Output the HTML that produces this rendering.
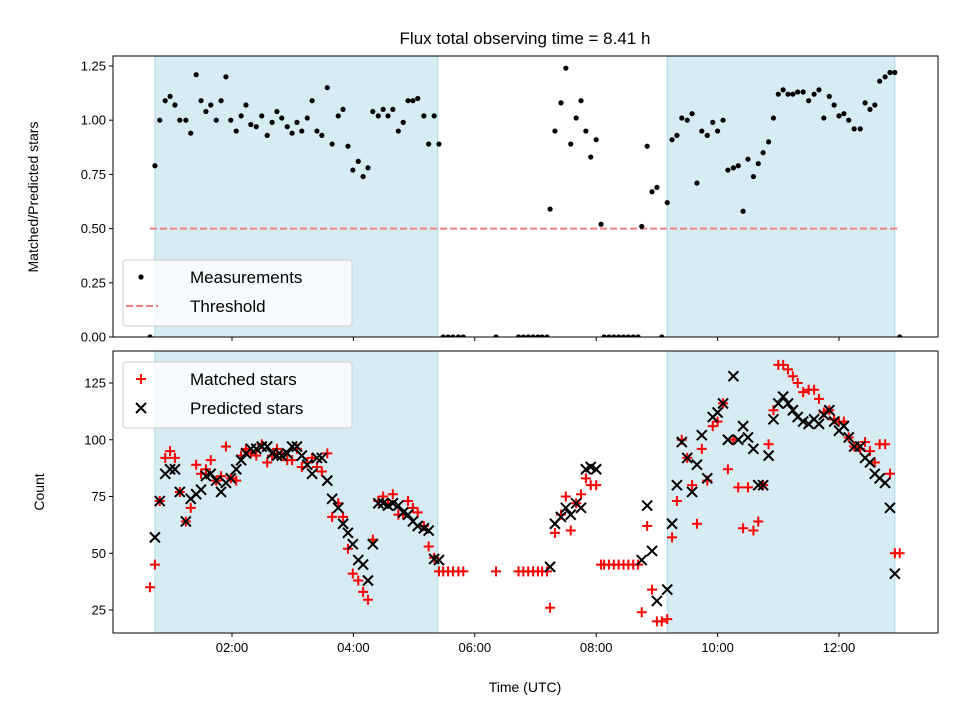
<!DOCTYPE html>
<html><head><meta charset="utf-8"><style>
body{margin:0;background:#fff}
svg text{font-family:"Liberation Sans","DejaVu Sans",sans-serif;fill:#000}
</style></head><body>
<svg id="chart" width="960" height="720" viewBox="0 0 960 720" xmlns="http://www.w3.org/2000/svg">
<rect width="960" height="720" fill="#fff"/>
<g id="top"></g>
<g id="bot"></g>
<text x="525" y="44" font-size="17" text-anchor="middle">Flux total observing time = 8.41 h</text>
<text x="525" y="692" font-size="14" text-anchor="middle">Time (UTC)</text>
<text transform="translate(38,197) rotate(-90)" font-size="14" text-anchor="middle">Matched/Predicted stars</text>
<text transform="translate(44,492) rotate(-90)" font-size="14" text-anchor="middle">Count</text>
</svg>
<script>
const times=[0.65,0.73,0.81,0.90,0.98,1.06,1.14,1.24,1.32,1.41,1.49,1.57,1.65,1.74,1.82,1.90,1.98,2.07,2.15,2.23,2.31,2.40,2.49,2.58,2.66,2.74,2.82,2.91,2.99,3.07,3.15,3.24,3.32,3.40,3.48,3.57,3.65,3.75,3.83,3.91,3.99,4.08,4.16,4.24,4.32,4.41,4.49,4.57,4.65,4.74,4.82,4.90,4.98,5.06,5.16,5.24,5.33,5.41,5.48,5.56,5.64,5.73,5.81,6.35,6.72,6.80,6.88,6.96,7.04,7.11,7.19,7.24,7.32,7.42,7.50,7.58,7.67,7.75,7.83,7.91,8.00,8.08,8.13,8.21,8.29,8.37,8.45,8.53,8.61,8.69,8.75,8.84,8.92,9.00,9.08,9.17,9.25,9.33,9.41,9.50,9.58,9.66,9.74,9.83,9.92,10.00,10.09,10.17,10.26,10.34,10.42,10.50,10.59,10.67,10.75,10.84,10.92,11.00,11.08,11.16,11.24,11.32,11.41,11.50,11.59,11.67,11.75,11.84,11.92,12.00,12.08,12.16,12.25,12.35,12.43,12.51,12.59,12.67,12.76,12.84,12.92,13.00];
const ratio=[0,0.79,1.00,1.09,1.11,1.07,1.00,1.00,0.94,1.21,1.09,1.04,1.07,1.00,1.09,1.20,1.00,0.95,1.02,1.07,0.98,0.97,1.02,0.93,0.99,1.04,1.01,0.97,0.94,0.99,0.95,1.01,1.09,0.95,0.93,1.15,0.89,1.02,1.05,0.88,0.77,0.81,0.74,0.78,1.04,1.02,1.05,1.02,1.05,0.95,0.99,1.09,1.09,1.10,1.02,0.89,1.02,0.89,0,0,0,0,0,0,0,0,0,0,0,0,0,0.59,0.95,1.08,1.24,0.89,1.01,1.09,0.95,0.83,0.91,0.52,0,0,0,0,0,0,0,0,0.51,0.88,0.67,0.69,0,0.62,0.91,0.93,1.01,1.00,1.03,0.71,0.95,0.93,0.99,0.95,1.00,0.77,0.78,0.79,0.58,0.82,0.74,0.80,0.85,0.90,1.01,1.12,1.14,1.12,1.12,1.13,1.13,1.09,1.12,1.14,1.01,1.11,1.07,1.02,1.03,1.00,0.96,0.96,1.08,1.05,1.07,1.18,1.20,1.22,1.22,0];
const matched=[35,45,73,92,95,92,77,64,70,89,85,87,91,82,84,97,83,82,93,96,94,93,98,90,93,96,94,91,91,96,88,90,92,88,86,94,66,72,66,52,41,38,33,29.5,56,73,75,72,76,67,67,73,70,68,62,53,48,42,42,42,42,42,42,42,42,42,42,42,42,42,42,26,59,67,75,60,72,76,83,80,80,45,45,45,45,45,45,45,45,45,24,62,34,20,20,21,57,73,100,92,80,63,96,82,106,108,116,87,100,79,61,79,60,64,80,98,113,133,133,131,128,125,121,122,122,118,112,113,109,108,108,101,97,96,99,95,90,98,98,85,50,50];
const predicted=[null,57,73,85,87,87,77,64,74,76,78,84,85,82,77,81,83,87,91,94,96,96,97,97,94,93,93,94,97,97,93,89,85,92,92,82,74,70,63,59,54,47,45,38,54,72,72,71,72,71,68,67,64,62,61,60,47.5,47,null,null,null,null,null,null,null,null,null,null,null,null,null,44,63,66,70,67,72,70,87,88,87,null,null,null,null,null,null,null,null,null,47,71,51,29,null,34,63,80,99,92,77,89,102,83,110,112,116,100,128,100,106,101,96,80,80,93,109,116,119,116,113,110,108,107,109,107,111,113,108,104,106,101,97,97,92,90,85,83,81,70,41,null];
const xTickHours=[2,4,6,8,10,12];
const xTickLabels=["02:00","04:00","06:00","08:00","10:00","12:00"];
const topTicks=[0,0.25,0.5,0.75,1.0,1.25];
const topTickLabels=["0.00","0.25","0.50","0.75","1.00","1.25"];
const botTicks=[25,50,75,100,125];
const spans=[[0.73,5.39],[9.17,12.92]];
const threshold=0.5, thrRange=[0.65,13.0];

const NS="http://www.w3.org/2000/svg";
const L=113,R=938;
const X=h=>110.6+h*60.7;
const TOP={y0:56,y1:337,fy:v=>337-v*216.8};
const BOT={y0:351,y1:633,fy:v=>610-(v-25)*2.27};
function mk(p,tag,a){const e=document.createElementNS(NS,tag);for(const k in a)e.setAttribute(k,a[k]);p.appendChild(e);return e;}
function panel(g,P,ticks,labels){
  spans.forEach(s=>{const r=mk(g,'rect',{x:X(s[0]),y:P.y0,width:X(s[1])-X(s[0]),height:P.y1-P.y0,fill:'#add8e6','fill-opacity':0.5,stroke:'#add8e6'});
    
    });
  ticks.forEach((t,i)=>{const y=P.fy(t);mk(g,'line',{x1:L-4,x2:L,y1:y,y2:y,stroke:'#000'});
    const tx=mk(g,'text',{x:L-7,y:y+4.5,'font-size':13,'text-anchor':'end'});tx.textContent=labels[i];
    
    });
  xTickHours.forEach((h,i)=>{mk(g,'line',{x1:X(h),x2:X(h),y1:P.y1,y2:P.y1+4,stroke:'#000'});});
}
const gt=document.getElementById('top'),gb=document.getElementById('bot');
panel(gt,TOP,topTicks,topTickLabels);
panel(gb,BOT,botTicks,botTicks.map(String));
xTickHours.forEach((h,i)=>{const t=mk(gb,'text',{x:X(h),y:652,'font-size':13,'text-anchor':'middle'});t.textContent=xTickLabels[i];
  
  });
const thr=mk(gt,'line',{x1:X(thrRange[0]),x2:X(thrRange[1]),y1:TOP.fy(threshold),y2:TOP.fy(threshold),stroke:'#f08080','stroke-width':2,'stroke-dasharray':'7,3'});


// clip
const defs=mk(document.getElementById('chart'),'defs',{});
const c1=mk(defs,'clipPath',{id:'c1'});mk(c1,'rect',{x:L,y:TOP.y0-3,width:R-L,height:TOP.y1-TOP.y0+3});
const c2=mk(defs,'clipPath',{id:'c2'});mk(c2,'rect',{x:L,y:BOT.y0,width:R-L,height:BOT.y1-BOT.y0});
const mt=mk(gt,'g',{'clip-path':'url(#c1)'});
times.forEach((h,i)=>{const d=mk(mt,'circle',{cx:X(h),cy:TOP.fy(ratio[i]),r:2.6,fill:'#000'});
  
  });
const mb=mk(gb,'g',{'clip-path':'url(#c2)'});
times.forEach((h,i)=>{const x=X(h),y=BOT.fy(matched[i]);
  const p=mk(mb,'path',{d:`M${x-5},${y}H${x+5}M${x},${y-5}V${y+5}`,stroke:'#f00','stroke-width':2,fill:'none'});
  
  });
times.forEach((h,i)=>{if(predicted[i]==null)return;const x=X(h),y=BOT.fy(predicted[i]);
  const p=mk(mb,'path',{d:`M${x-5},${y-5}L${x+5},${y+5}M${x-5},${y+5}L${x+5},${y-5}`,stroke:'#000','stroke-width':2,fill:'none'});
  
  });
[TOP,BOT].forEach((P,i)=>{const r=mk(i?gb:gt,'rect',{x:L,y:P.y0,width:R-L,height:P.y1-P.y0,fill:'none',stroke:'#000','stroke-width':1});
  
  });
// legends
function legend(g,y,items){
  const box=mk(g,'rect',{x:123,y:y,width:229,height:66,rx:3,fill:'#fff','fill-opacity':0.8,stroke:'#ccc'});
  
  
  items.forEach((it,i)=>{const cy=y+17+i*29,cx=141;
    if(it.k==='dot')mk(g,'circle',{cx:cx,cy:cy,r:2.6,fill:'#000'});
    if(it.k==='dash')mk(g,'line',{x1:126,x2:158,y1:cy,y2:cy,stroke:'#f08080','stroke-width':2,'stroke-dasharray':'7,3'});
    if(it.k==='plus')mk(g,'path',{d:`M${cx-5},${cy}H${cx+5}M${cx},${cy-5}V${cy+5}`,stroke:'#f00','stroke-width':2});
    if(it.k==='x')mk(g,'path',{d:`M${cx-5},${cy-5}L${cx+5},${cy+5}M${cx-5},${cy+5}L${cx+5},${cy-5}`,stroke:'#000','stroke-width':2});
    const t=mk(g,'text',{x:190,y:cy+6,'font-size':17});t.textContent=it.t;
    
    });
}
legend(gt,260,[{k:'dot',t:'Measurements'},{k:'dash',t:'Threshold'}]);
legend(gb,362,[{k:'plus',t:'Matched stars'},{k:'x',t:'Predicted stars'}]);
</script>
</body></html>
